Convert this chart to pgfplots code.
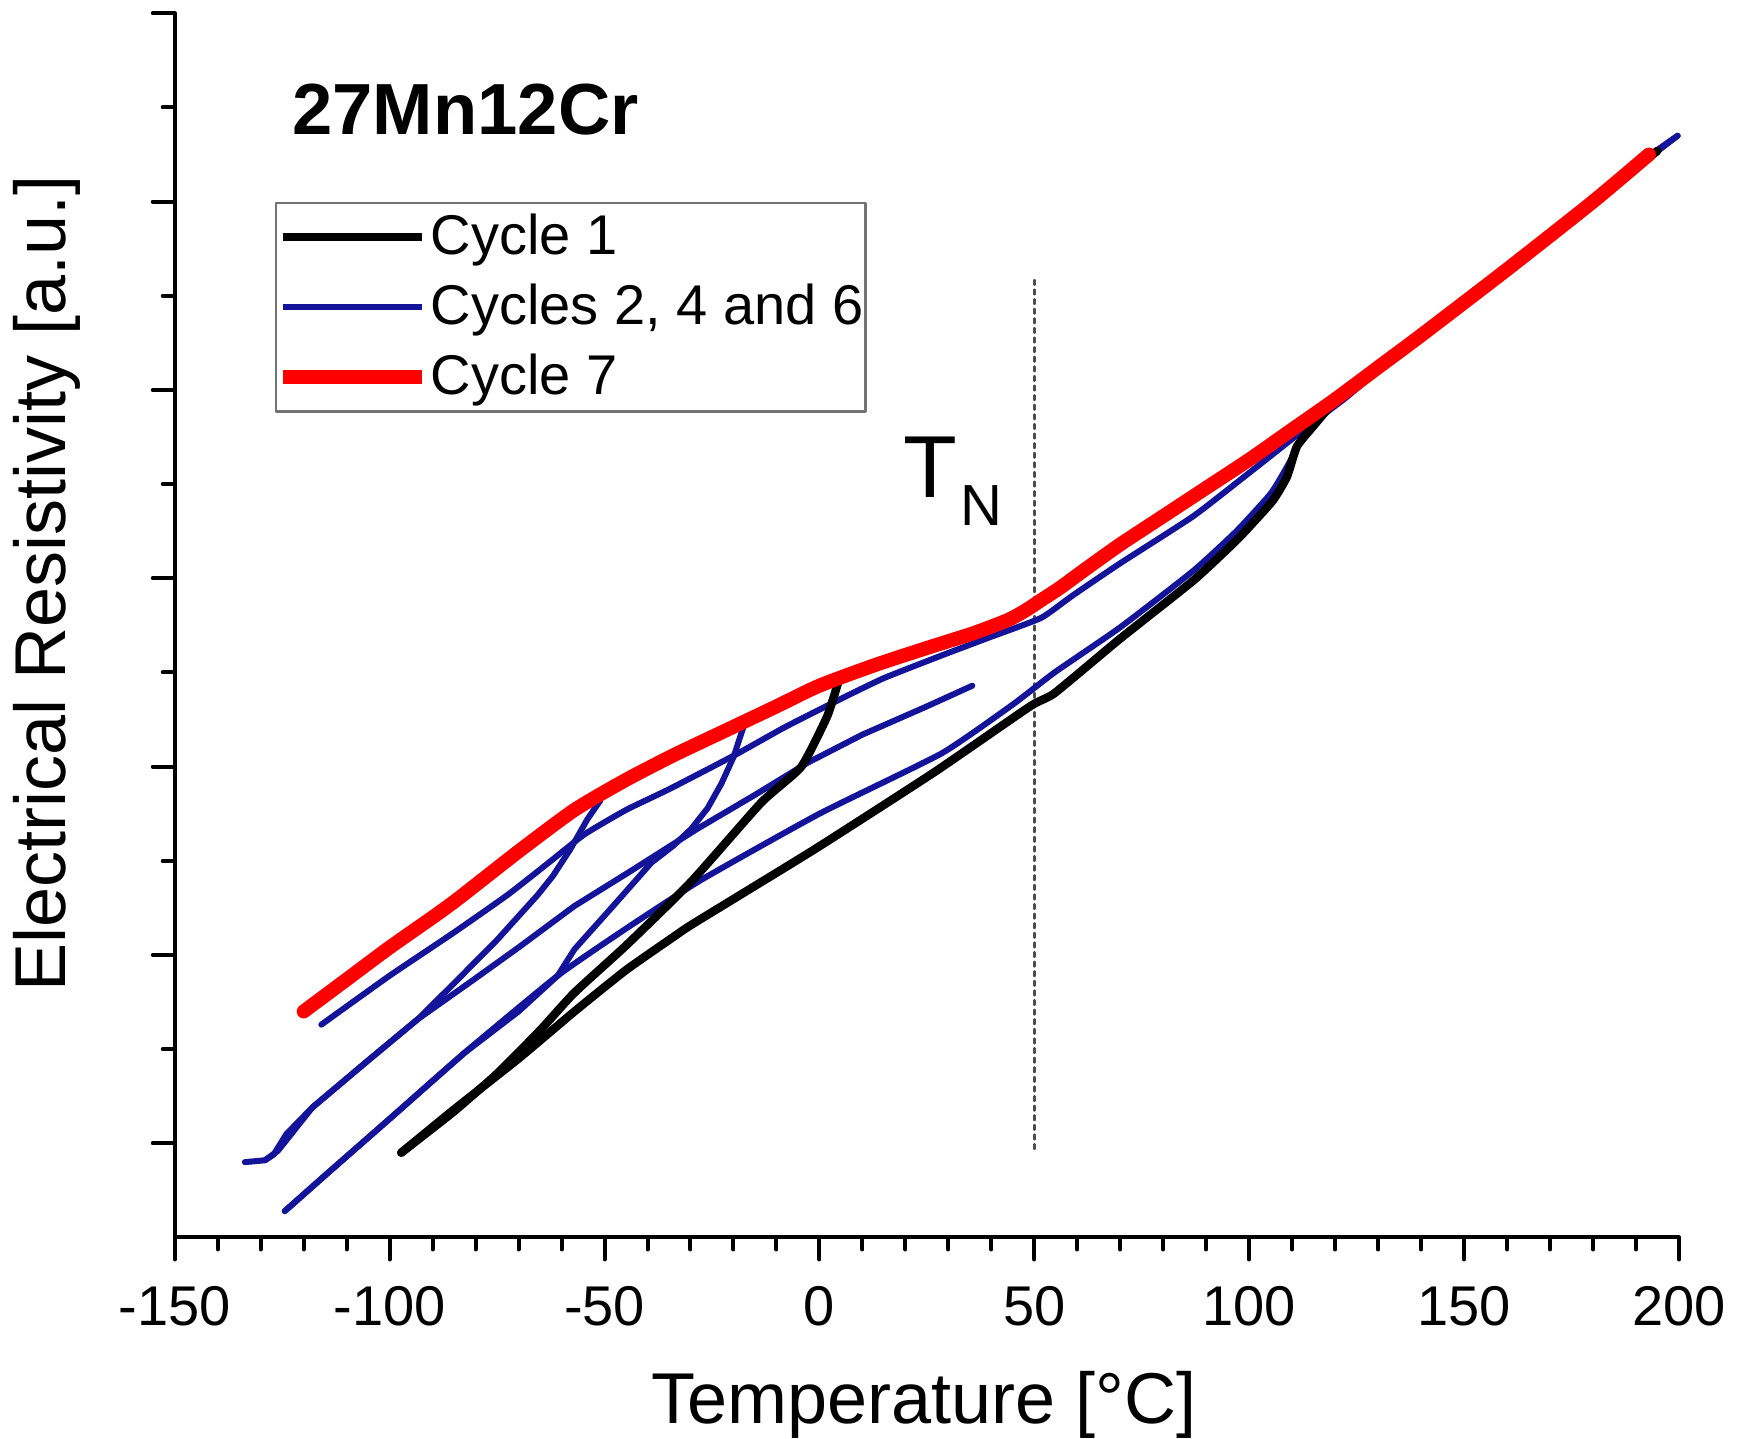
\documentclass[border=0pt]{standalone}
\usepackage{fontspec}
\setmainfont{Liberation Sans}
\usepackage{pgfplots}
\pgfplotsset{compat=1.18}
\definecolor{cyc1}{HTML}{000000}
\definecolor{cycb}{HTML}{14149A}
\definecolor{cyc7}{HTML}{FF0000}
\begin{document}
\begin{tikzpicture}
\begin{axis}[
    width=376pt, height=306pt, scale only axis,
    xmin=-150, xmax=200, ymin=-0.5, ymax=6,
    axis x line*=bottom, axis y line*=left,
    axis line style={line width=1pt, black},
    xtick={-150,-100,...,200}, minor x tick num=4,
    ytick={0,1,...,6}, minor y tick num=1, yticklabel=\empty,
    tick align=outside, major tick length=5.5pt, minor tick length=3pt,
    every tick/.style={black, line width=1pt},
    tick label style={font=\fontsize{14}{16}\selectfont},
    xticklabel style={yshift=-3.3pt},
    /pgf/number format/assume math mode=true,
    xlabel={Temperature [°C]},
    ylabel={Electrical Resistivity [a.u.]},
    label style={font=\fontsize{18}{20}\selectfont},
    xlabel style={at={(axis description cs:0.498,-0.152)}, anchor=base, inner sep=0pt},
    ylabel style={at={(axis description cs:-0.085,0.534)}, anchor=center},
    legend style={at={(axis cs:-126.7,5.0)}, anchor=north west,
      draw=black!55, line width=0.6pt, inner xsep=0pt, inner ysep=2.2pt,
      font=\fontsize{14}{16}\selectfont, row sep=4.9pt,
      cells={anchor=west}, nodes={inner sep=0.5pt}},
    legend image code/.code={\draw[#1] (0pt,0pt) -- (34.7pt,0pt);},
    line join=round, line cap=round,
    clip=false,
  ]
  \addlegendimage{cyc1, line width=2.1pt}
  \addlegendentry{Cycle 1}
  \addlegendimage{cycb, line width=1.5pt}
  \addlegendentry{Cycles 2, 4 and 6}
  \addlegendimage{cyc7, line width=3.5pt}
  \addlegendentry{Cycle 7}

  % T_N marker
  \addplot[forget plot, black!70, line width=0.6pt, dash pattern=on 1.2pt off 1.2pt]
    coordinates {(50,-0.03) (50,4.59)};

  % cycles 2, 4 and 6
  \addplot[forget plot, cycb, line width=1.5pt, smooth, tension=0.3] coordinates {
    (199.7,5.35) (193,5.24) (170,4.81) (150,4.45) (130,4.10) (122,3.95)
    (115,3.83) (110,3.74) (100,3.56) (87,3.33) (70,3.08) (59,2.91)
    (51.6,2.79) (40,2.69) (28.4,2.59) (15,2.47) (5,2.36) (-8,2.21)
    (-19.8,2.06) (-35,1.88) (-45,1.77) (-54.7,1.64) (-63,1.49)
    (-72.5,1.32) (-85,1.12) (-100,0.89) (-115.9,0.63)
  };
  \addplot[forget plot, cycb, line width=1.5pt] coordinates {
    (-51,1.82) (-54,1.72) (-58,1.56) (-62,1.42) (-65.5,1.32) (-75,1.08)
    (-85,0.85) (-93.4,0.66) (-105,0.44) (-118,0.19) (-124,0.05)
    (-127,-0.06) (-129,-0.09) (-133.7,-0.10)
  };
  \addplot[forget plot, cycb, line width=1.5pt] coordinates {
    (-129,-0.09) (-126,-0.04) (-118,0.19) (-105,0.44)
    (-93.4,0.66) (-81,0.86) (-70,1.04) (-57,1.26) (-45,1.43)
    (-28.4,1.67) (-15,1.85) (-2.8,2.02) (10,2.17) (25,2.32) (35.6,2.43)
  };
  \addplot[forget plot, cycb, line width=1.5pt] coordinates {
    (-17.4,2.23) (-20,2.05) (-22.8,1.91) (-26,1.78) (-29.8,1.67)
    (-34,1.58) (-39.1,1.49) (-48,1.26) (-57,1.03) (-60.9,0.89)
    (-70,0.70) (-82.6,0.48) (-100,0.13) (-115,-0.17) (-124.4,-0.36)
  };
  \addplot[forget plot, cycb, line width=1.5pt, smooth, tension=0.3] coordinates {
    (-124.4,-0.36) (-115,-0.17) (-100,0.13) (-82.6,0.48) (-60.9,0.89) (-45,1.14)
    (-27.4,1.40) (0,1.75) (28.4,2.07) (45,2.33) (54.7,2.50) (70,2.74)
    (87,3.04) (97,3.25) (105,3.45) (109,3.60) (112,3.73) (116,3.84)
    (121,3.95) (126,4.04) (140,4.29) (170,4.83) (199.7,5.35)
  };

  % cycle 1
  \addplot[forget plot, cyc1, line width=2.1pt, smooth, tension=0.3] coordinates {
    (4.65,2.47) (1.86,2.27) (-4.2,2.00) (-13.5,1.81) (-29.8,1.39)
    (-45,1.05) (-57,0.80) (-65,0.60) (-75,0.37) (-85,0.17) (-97.3,-0.05)
  };
  \addplot[forget plot, cyc1, line width=2.1pt, smooth, tension=0.3] coordinates {
    (-97.3,-0.05)
    (-85,0.18) (-70,0.45) (-57,0.70) (-45,0.92) (-33.7,1.10) (-29.1,1.17)
    (-1.2,1.56) (26.7,1.97) (49,2.32) (54.7,2.39) (70,2.68) (87.1,2.99)
    (97.4,3.21) (105.4,3.41) (108.8,3.54) (111.1,3.70) (115,3.81)
    (119.1,3.92) (124,4.01) (140,4.29) (170,4.82) (195,5.27)
  };

  % cycle 7
  \addplot[forget plot, cyc7, line width=3.5pt, smooth, tension=0.4] coordinates {
    (-120,0.70) (-110,0.87) (-100,1.04) (-90,1.20) (-84,1.30) (-70,1.55)
    (-57,1.77) (-45,1.93) (-34,2.06) (-22,2.19) (-10,2.32) (0,2.43)
    (13,2.54) (25,2.63) (36,2.71) (44,2.78) (48,2.83) (52,2.89)
    (56,2.95) (62,3.05) (70,3.18) (80,3.33) (90,3.48) (100,3.63)
    (110,3.79) (120,3.95) (130,4.12) (140,4.29) (160,4.64) (180,5.00)
    (193,5.25)
  };

  \node[anchor=base west, inner sep=0pt, font=\bfseries\fontsize{18.1}{20}\selectfont]
    at (axis cs:-122.8,5.355) {27Mn12Cr};
  \node[anchor=base west, inner sep=0pt, font=\fontsize{22}{24}\selectfont]
    at (axis cs:19.3,3.427) {T};
  \node[anchor=base west, inner sep=0pt, font=\fontsize{14.5}{16}\selectfont]
    at (axis cs:32.6,3.278) {N};
\end{axis}
\end{tikzpicture}
\end{document}
